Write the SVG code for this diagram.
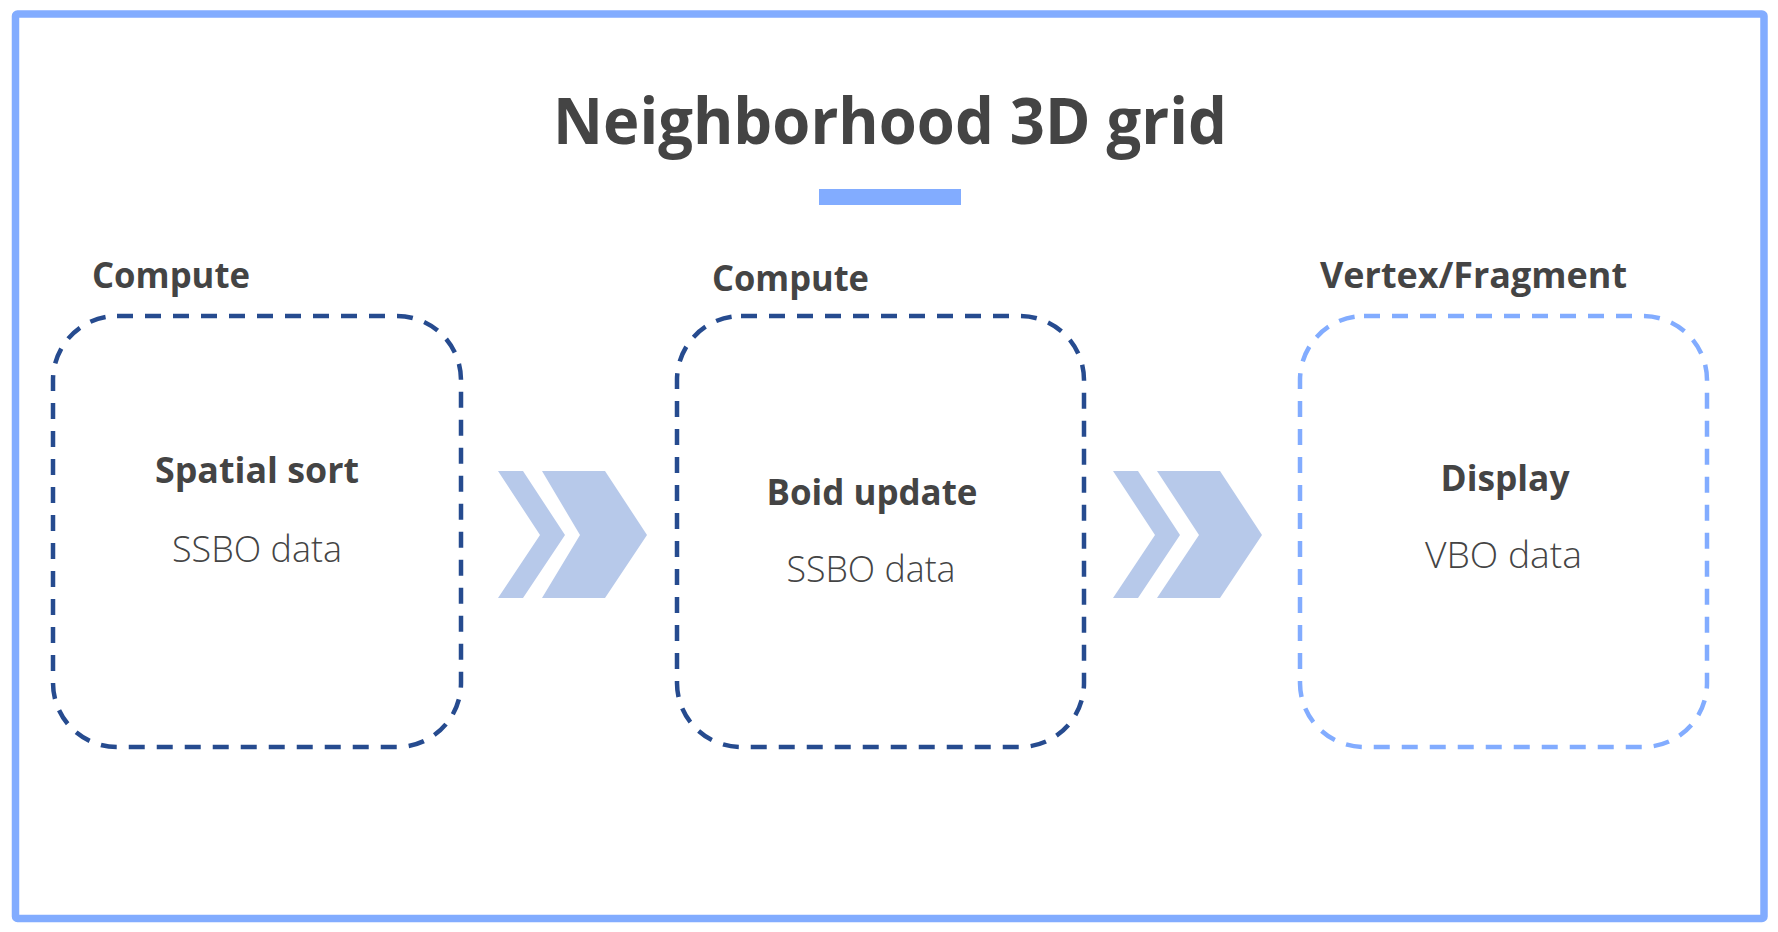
<svg xmlns="http://www.w3.org/2000/svg" width="1778" height="932" viewBox="0 0 1778 932">
  <style>
    text { font-family: "Open Sans", "Noto Sans", "Liberation Sans", sans-serif; fill: #444444; }
    .title { font-size: 64px; font-weight: 700; }
    .lbl { font-size: 35px; font-weight: 700; }
    .name { font-size: 36px; font-weight: 700; text-anchor: middle; }
    .data { font-size: 37px; font-weight: 300; text-anchor: middle; }
    .box { fill: none; stroke-width: 4.5; stroke-dasharray: 16 12; }
    .dark { stroke: #264b8f; }
    .light { stroke: #82acff; }
    .chev { fill: #b7c9ea; }
  </style>
  <rect x="0" y="0" width="1778" height="932" fill="#ffffff"/>
  <rect id="frame" x="15.5" y="14" width="1748.5" height="904.5" rx="2" fill="none" stroke="#82acff" stroke-width="7.5"/>
  <g id="title">
    <text class="title" x="890" y="144" text-anchor="middle" textLength="674" lengthAdjust="spacingAndGlyphs">Neighborhood 3D grid</text>
    <rect x="819" y="189" width="142" height="16" fill="#82acff"/>
  </g>
  <g id="node-spatial-sort">
    <text class="lbl" x="92" y="288" textLength="158" lengthAdjust="spacingAndGlyphs">Compute</text>
    <rect class="box dark" x="53" y="316" width="408" height="431" rx="64"/>
    <text class="name" x="257" y="483" textLength="204" lengthAdjust="spacingAndGlyphs">Spatial sort</text>
    <text class="data" x="257" y="562" textLength="170" lengthAdjust="spacingAndGlyphs">SSBO data</text>
  </g>
  <g id="node-boid-update">
    <text class="lbl" x="712" y="291" textLength="157" lengthAdjust="spacingAndGlyphs">Compute</text>
    <rect class="box dark" x="677" y="316" width="407" height="431" rx="64"/>
    <text class="name" x="872" y="505" textLength="211" lengthAdjust="spacingAndGlyphs">Boid update</text>
    <text class="data" x="871" y="582" textLength="169" lengthAdjust="spacingAndGlyphs">SSBO data</text>
  </g>
  <g id="node-display">
    <text class="lbl" x="1320" y="288" textLength="307" lengthAdjust="spacingAndGlyphs">Vertex/Fragment</text>
    <rect class="box light" x="1300" y="316" width="407" height="431" rx="64"/>
    <text class="name" x="1505" y="491" textLength="129" lengthAdjust="spacingAndGlyphs">Display</text>
    <text class="data" x="1503.5" y="568" textLength="157" lengthAdjust="spacingAndGlyphs">VBO data</text>
  </g>
  <g id="connectors">
    <g id="arrow-1">
      <polygon class="chev" points="498,471 523,471 565,535 523,598 498,598 540,535"/>
      <polygon class="chev" points="542,471 605,471 647,535 605,598 542,598 580,535"/>
    </g>
    <g id="arrow-2">
      <polygon class="chev" points="1113,471 1138,471 1180,535 1138,598 1113,598 1155,535"/>
      <polygon class="chev" points="1157,471 1220,471 1262,535 1220,598 1157,598 1199,535"/>
    </g>
  </g>
</svg>
